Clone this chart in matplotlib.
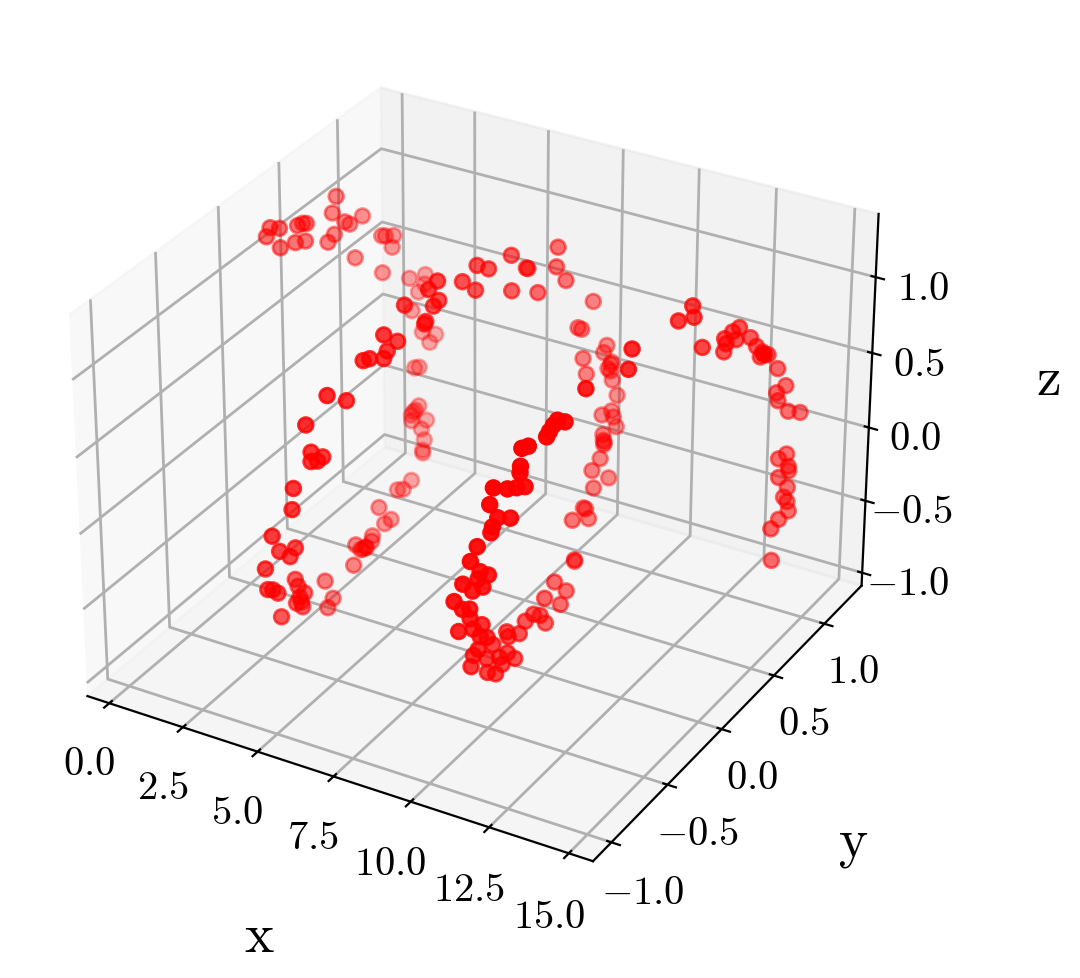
import matplotlib
matplotlib.use("Agg")
import matplotlib.pyplot as plt

plt.rcParams['font.family'] = ['cmr10', 'DejaVu Sans']
plt.rcParams['mathtext.fontset'] = 'cm'
plt.rcParams['grid.linewidth'] = 1.0

x_vals = [0.1,0.15,0.3,0.4,0.5,0.3,0.35,0.4,0.6,0.8,0.7,0.5,0.6,0.7,0.75,0.75,1.0,1.05,1.1,1.15,1.25,1.3,1.45,1.5,
 1.55,1.6,1.8,2.0,2.0,2.1,2.15,2.15,2.4,2.4,2.4,2.45,2.5,2.55,2.6,2.7,2.8,2.75,2.9,3.0,3.0,3.1,3.2,3.25,3.3,3.35,3.4,3.45,3.45,3.45,3.45,3.6,3.3,3.4,3.5,
 3.95,3.9,3.85,4.0,4.0,4.0,3.95,4.15,4.3,4.3,4.3,4.45,4.7,4.6,4.75,4.65,5.0,5.1,5.2,5.25,5.25,5.3,5.3,5.6,5.7,5.9,5.95,6.05,6.05,6.1,6.15,5.8,6.1,6.1,6.2,6.2,6.3,6.3,
 6.5,6.7,6.6,6.75,6.9,7.1,7.1,7.15,7.3,7.3,7.4,7.5,7.7,7.7,7.75,8.0,8.0,7.95,8.1,8.1,8.15,8.2,8.1,8.3,8.4,12.2,12.6,12.6,
 8.5,8.5,8.6,8.7,8.75,8.8,8.8,8.85,8.95,9.0,9.1,9.2,9.3,9.3,9.4,9.4,9.7,9.7,9.8,9.9,9.95,10.0,10.2,10.1,10.1,10.2,10.3,10.3,10.35,10.45,10.4,10.4,10.45,10.5,10.5,10.4,10.3,
 10.5,10.5,10.5,10.6,10.6,10.6,10.7,10.6,10.7,10.8,10.8,10.8,11.0,11.0,11.1,11.1,11.2,11.2,11.2,11.3,11.5,11.55,11.6,11.7,11.65,11.8,11.9,12.0,12.0,12.15,12.1,12.3,12.35,12.4,12.45,12.5,12.55,12.6,
 12.9,13.0,13.05,13.2,13.35,13.35,13.3,13.35,13.4,13.4,13.5,13.6,13.7,13.7,13.7,13.7,13.75,13.85,14.0,14.0,14.05,14.2,14.3,14.45,14.45,14.55,14.6,14.6,14.7,14.75,14.8,14.85,14.9,14.95,15.0]

y_vals = [0.18,0.20,0.24,0.22,0.32,0.39,0.42,0.44,0.38,0.52,0.60,0.67,0.61,0.69,0.72,
 0.83,0.70,0.92,0.94,1.00,0.96,0.86,1.06,1.19,1.17,1.10,0.99,1.03,1.15,1.07,
 0.92,0.96,0.89,0.84,0.86,0.81,0.80,0.92,0.86,0.86,0.82,0.83,0.69,0.59,0.54,
 0.35,0.43,0.36,0.24,0.22,0.07,0.12,0.10,0.14,0.15,0.00,-0.17,-0.13,-0.20,-0.50,
 -0.54,-0.55,-0.58,-0.54,-0.53,-0.54,-0.74,-0.88,-0.84,-0.80,-0.93,-0.93,-0.85,-0.76,-0.78,
 -0.84,-0.85,-0.73,-0.74,-0.69,-0.66,-0.79,-0.69,-0.56,-0.47,-0.43,-0.34,-0.31,-0.35,-0.25,
 -0.10,0.00,-0.01,0.04,0.00,0.06,0.05,0.21,0.27,0.31,0.37,0.53,0.48,0.61,0.61,
 0.66,0.84,0.80,0.86,1.06,0.92,0.94,1.11,1.08,0.90,1.12,1.13,1.08,1.09,0.89,
 1.08,1.10,-0.27,0.02,-0.01,1.02,0.93,1.01,1.01,0.87,0.87,0.86,0.85,0.79,0.70,
 0.83,0.66,0.56,0.54,0.56,0.41,0.35,0.35,0.14,0.22,0.01,0.14,-0.05,-0.07,-0.13,
 -0.23,-0.31,-0.42,-0.42,-0.39,-0.44,-0.51,-0.50,-0.57,-0.64,-0.62,-0.54,-0.78,-0.76,-0.72,
 -0.67,-0.73,-0.79,-0.74,-0.91,-0.84,-0.87,-0.93,-1.00,-0.90,-0.98,-0.84,-0.88,-0.82,-0.89,
 -0.97,-0.94,-0.88,-0.88,-0.85,-0.77,-0.93,-0.94,-0.85,-0.80,-0.73,-0.81,-0.80,-0.84,-0.80,
 -0.66,-0.65,-0.63,-0.61,-0.56,0.35,0.45,0.45,0.49,0.65,0.67,0.67,0.73,0.75,0.78,
 0.86,0.89,0.93,0.92,0.94,0.90,0.96,1.03,1.07,0.98,0.98,1.04,1.13,0.96,0.88,
 0.95,0.94,0.84,0.90,0.85,0.87,0.87,0.76,0.67,0.67]

z_vals = [1.15,1.20,1.18,1.07,1.05,1.11,1.11,1.10,1.03,0.95,0.95,1.15,1.08,0.98,0.95,
 0.94,0.75,0.77,0.76,0.73,0.68,0.57,0.42,0.37,0.32,0.31,0.26,0.10,0.01,0.01,
 -0.07,-0.09,-0.30,-0.31,-0.31,-0.31,-0.34,-0.41,-0.43,-0.50,-0.56,-0.55,-0.66,-0.65,-0.62,
 -0.61,-0.74,-0.72,-0.72,-0.74,-0.66,-0.72,-0.71,-0.72,-0.73,-0.74,-0.75,-0.89,-0.90,-0.56,
 -0.49,-0.44,-0.57,-0.59,-0.63,-0.56,-0.54,-0.25,-0.28,-0.33,-0.07,0.16,0.00,-0.03,-0.08,
 0.29,0.44,0.54,0.61,0.52,0.53,0.82,0.96,0.85,1.06,1.05,1.00,1.03,1.16,1.06,
 1.18,1.03,1.02,1.11,1.24,1.14,1.27,1.18,1.10,1.23,1.18,1.18,0.99,1.06,1.06,
 0.88,1.07,0.97,0.85,0.60,0.51,0.49,0.29,0.26,0.33,0.16,0.17,0.16,0.14,0.24,
 0.09,-0.02,1.11,1.20,1.09,-0.07,-0.04,-0.10,-0.16,-0.12,-0.17,-0.15,-0.17,-0.22,-0.24,
 -0.37,-0.32,-0.39,-0.37,-0.45,-0.36,-0.58,-0.57,-0.57,-0.68,-0.58,-0.71,-0.69,-0.63,-0.58,
 -0.55,-0.57,-0.48,-0.51,-0.67,-0.60,-0.58,-0.63,-0.64,-0.58,-0.51,-0.48,-0.44,-0.38,-0.37,
 -0.32,-0.27,-0.18,-0.18,-0.11,-0.07,0.02,0.06,0.16,0.17,0.27,0.16,0.24,0.23,0.30,
 0.42,0.50,0.56,0.60,0.64,0.59,0.78,0.90,0.84,0.82,0.78,0.97,0.92,1.11,1.10,
 1.07,1.10,1.13,1.15,1.11,1.19,1.23,1.16,0.95,0.83,0.87,0.90,0.91,0.85,0.91,
 0.80,0.73,0.66,0.68,0.65,0.66,0.64,0.51,0.38,0.39,0.34,0.24,0.18,0.02,0.04,
 -0.05,-0.07,-0.05,-0.15,-0.18,-0.22,-0.28,-0.26,-0.26,-0.47]

x_ticks = [0.0, 2.5, 5.0, 7.5, 10.0, 12.5, 15.0]
y_ticks = [-1.0, -0.5, 0.0, 0.5, 1.0]
z_ticks = [-1.0, -0.5, 0.0, 0.5, 1.0]

def fmt(v):
    return f"${v:.1f}$"

fig = plt.figure(figsize=(5.4, 4.895), dpi=200)
ax = fig.add_axes([19.5/1080, 60/979, 900/1080, 900/979], projection='3d')
ax.scatter(x_vals, y_vals, z_vals, c='red', s=28)

ax.set_xlim(-0.75, 15.75)
ax.set_ylim(-1.16, 1.38)
ax.set_zlim(-1.09, 1.41)
ax.set_xticks(x_ticks, [fmt(v) for v in x_ticks], fontsize=14.6)
ax.set_yticks(y_ticks, [fmt(v) for v in y_ticks], fontsize=14.6)
ax.set_zticks(z_ticks, [fmt(v) for v in z_ticks], fontsize=14.6)
ax.tick_params(axis='x', pad=3.3)
ax.tick_params(axis='y', pad=2)
ax.tick_params(axis='z', pad=2.3)
ax.set_xlabel('x', fontsize=20, labelpad=20)
ax.set_ylabel('y', fontsize=20, labelpad=19)
ax.set_zlabel('z', fontsize=20, labelpad=19)

fig.savefig('out.png', dpi=200)
